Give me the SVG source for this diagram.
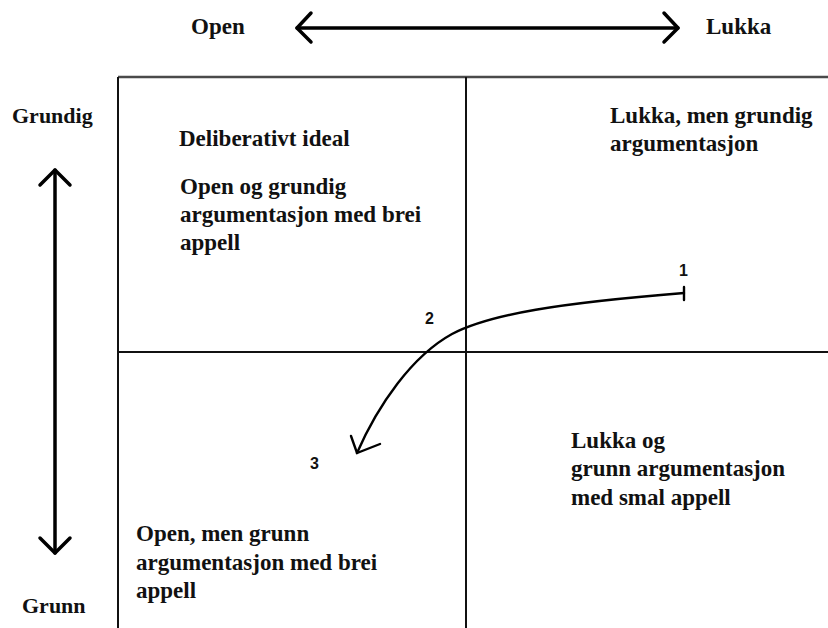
<svg xmlns="http://www.w3.org/2000/svg" width="828" height="628" viewBox="0 0 828 628">
<style>
.t{font-family:"Liberation Serif","Times New Roman",serif;font-weight:bold;font-size:23px;fill:#111}
.s{font-size:22px}
.n{font-family:"Liberation Sans",Arial,sans-serif;font-weight:bold;font-size:16px;fill:#111}
.frame{stroke:#111;stroke-width:2;fill:none}
.top{stroke:#4a4a4a;stroke-width:2.5}
.axis{stroke:#000;stroke-width:3.5;fill:none;stroke-linecap:round;stroke-linejoin:round}
.path{stroke:#000;stroke-width:2.4;fill:none;stroke-linecap:round}
</style>
<rect width="828" height="628" fill="#fff"/>
<g id="frame">
<line class="frame top" x1="118" y1="77" x2="828" y2="77"/>
<line class="frame" x1="118" y1="77" x2="118" y2="628"/>
<line class="frame" x1="466" y1="77" x2="466" y2="628"/>
<line class="frame" x1="118" y1="352" x2="828" y2="352"/>
</g>
<g id="axis-horizontal">
<text class="t" x="191" y="34">Open</text>
<text class="t" x="706" y="34">Lukka</text>
<line class="axis" x1="297" y1="28" x2="678" y2="28"/>
<polyline class="axis" points="311,13 297,28 311,42"/>
<polyline class="axis" points="664,13 678,28 664,42"/>
</g>
<g id="axis-vertical">
<text class="t s" x="12" y="123">Grundig</text>
<text class="t s" x="22" y="613">Grunn</text>
<line class="axis" x1="55" y1="170" x2="55" y2="553"/>
<polyline class="axis" points="40,185 55,170 70,185"/>
<polyline class="axis" points="40,538 55,553 70,538"/>
</g>
<g id="q-top-left">
<text class="t" x="179" y="146">Deliberativt ideal</text>
<text class="t" x="180" y="194">Open og grundig</text>
<text class="t" x="180" y="222">argumentasjon med brei</text>
<text class="t" x="180" y="250">appell</text>
</g>
<g id="q-top-right">
<text class="t" x="610" y="123">Lukka, men grundig</text>
<text class="t" x="610" y="151">argumentasjon</text>
</g>
<g id="q-bottom-right">
<text class="t" x="571" y="448">Lukka og</text>
<text class="t" x="571" y="476">grunn argumentasjon</text>
<text class="t" x="571" y="505">med smal appell</text>
</g>
<g id="q-bottom-left">
<text class="t" x="136" y="541">Open, men grunn</text>
<text class="t" x="136" y="570">argumentasjon med brei</text>
<text class="t" x="136" y="598">appell</text>
</g>
<g id="connectors">
<path class="path" d="M684,293 C560,303 490,314 452,334 C412,356 378,405 357,453"/>
<line class="path" x1="684" y1="287" x2="684" y2="300"/>
<polyline class="path" points="351,436 357,453 380,444"/>
</g>
<g id="labels">
<text class="n" x="679" y="276">1</text>
<text class="n" x="425" y="324">2</text>
<text class="n" x="310" y="469">3</text>
</g>
</svg>
